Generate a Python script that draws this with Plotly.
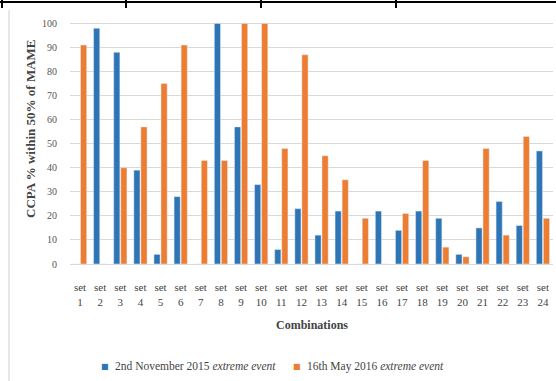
import plotly.graph_objects as go

categories = [f"set<br>{i}" for i in range(1, 25)]
nov_2015 = [0, 98, 88, 39, 4, 28, 0, 100, 57, 33, 6, 23, 12, 22, 0, 22, 14, 22, 19, 4, 15, 26, 16, 47]
may_2016 = [91, 0, 40, 57, 75, 91, 43, 43, 100, 100, 48, 87, 45, 35, 19, 0, 21, 43, 7, 3, 48, 12, 53, 19]
series_names = ["2nd November 2015 <i>extreme event</i>", "16th May 2016 <i>extreme event</i>"]
colors = ["#2E75B6", "#ED7D31"]
y_ticks = list(range(0, 101, 10))

W, H = 556, 381
ML, MR, MT, MB = 70, 3, 22, 117
PW, PH = W - ML - MR, H - MT - MB

def px_x(px):
    return (px - ML) / PW

def px_y(py):
    return 1 - (py - MT) / PH

FONT = "Liberation Serif, Times New Roman, serif"

fig = go.Figure()
fig.add_trace(go.Bar(x=categories, y=nov_2015, name=series_names[0], marker_color=colors[0]))
fig.add_trace(go.Bar(x=categories, y=may_2016, name=series_names[1], marker_color=colors[1]))

shapes = []
shapes.append(dict(type="line", xref="paper", yref="paper", x0=px_x(0), x1=px_x(W), y0=px_y(2), y1=px_y(2),
                   line=dict(color="black", width=2)))
for dx in [2, 126, 261, 396]:
    shapes.append(dict(type="line", xref="paper", yref="paper", x0=px_x(dx), x1=px_x(dx), y0=px_y(0), y1=px_y(8),
                       line=dict(color="black", width=2)))
shapes.append(dict(type="line", xref="paper", yref="paper", x0=px_x(9), x1=px_x(9), y0=px_y(10), y1=px_y(H),
                   line=dict(color="#d0d0d0", width=1)))

annotations = [
    dict(text="<b>CCPA % within 50% of MAME</b>", xref="paper", yref="paper",
         x=px_x(30), y=px_y(129), textangle=-90, showarrow=False, xanchor="center", yanchor="middle",
         font=dict(family=FONT, size=13, color="#444")),
    dict(text="<b>Combinations</b>", xref="paper", yref="paper",
         x=px_x(312), y=px_y(325), showarrow=False, xanchor="center", yanchor="middle",
         font=dict(family=FONT, size=12, color="#444")),
]
# legend drawn as annotations (symbol + label) from the series lists
for name, c, sx in zip(series_names, colors, [105, 297]):
    annotations.append(dict(text="■", xref="paper", yref="paper", x=px_x(sx), y=px_y(366),
                            showarrow=False, xanchor="center", yanchor="middle",
                            font=dict(family="DejaVu Sans", size=8, color=c)))
    annotations.append(dict(text=name, xref="paper", yref="paper", x=px_x(sx + 8), y=px_y(366),
                            showarrow=False, xanchor="left", yanchor="middle",
                            font=dict(family=FONT, size=11.5, color="#444")))

fig.update_layout(
    width=W, height=H,
    margin=dict(l=ML, r=MR, t=MT, b=MB, autoexpand=False),
    paper_bgcolor="white", plot_bgcolor="white",
    font=dict(family=FONT, size=11, color="#444"),
    barmode="group", bargap=0.3, bargroupgap=0.12,
    showlegend=False,
    shapes=shapes,
    annotations=annotations,
)
fig.update_xaxes(showgrid=False, showline=True, linecolor="#d9d9d9", ticks="", automargin=False,
                 ticklabelstandoff=13,
                 tickfont=dict(family=FONT, size=11, color="#444"))
fig.update_yaxes(range=[0, 100.6], tickvals=y_ticks, showgrid=True, gridcolor="#d9d9d9", gridwidth=1,
                 zeroline=False, ticks="", ticklabelstandoff=12, automargin=False,
                 tickfont=dict(family=FONT, size=10, color="#555"))

fig.write_html("out.html", post_script="document.body.style.margin='0';",
               config={"displayModeBar": False})
